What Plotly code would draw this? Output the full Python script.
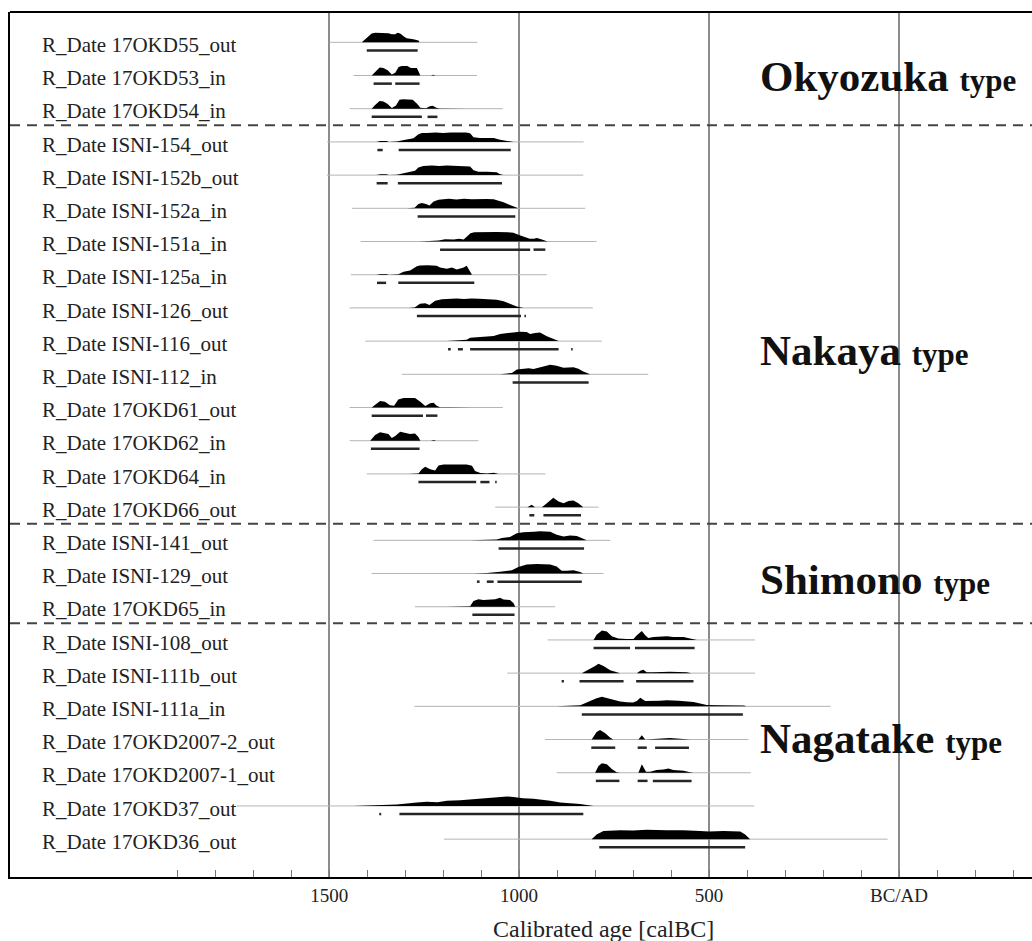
import plotly.graph_objects as go

# ---------------- data (years BC; AD negative) ----------------
labels = [
    "R_Date 17OKD55_out", "R_Date 17OKD53_in", "R_Date 17OKD54_in",
    "R_Date ISNI-154_out", "R_Date ISNI-152b_out", "R_Date ISNI-152a_in",
    "R_Date ISNI-151a_in", "R_Date ISNI-125a_in", "R_Date ISNI-126_out",
    "R_Date ISNI-116_out", "R_Date ISNI-112_in", "R_Date 17OKD61_out",
    "R_Date 17OKD62_in", "R_Date 17OKD64_in", "R_Date 17OKD66_out",
    "R_Date ISNI-141_out", "R_Date ISNI-129_out", "R_Date 17OKD65_in",
    "R_Date ISNI-108_out", "R_Date ISNI-111b_out", "R_Date ISNI-111a_in",
    "R_Date 17OKD2007-2_out", "R_Date 17OKD2007-1_out", "R_Date 17OKD37_out",
    "R_Date 17OKD36_out",
]

line_start = [1500, 1436, 1446, 1505, 1506, 1440, 1417, 1443, 1446, 1405, 1309, 1446, 1446,
              1401, 1063, 1383, 1388, 1274, 925, 1031, 1276, 932, 901, 1743, 1198]
line_end = [1110, 1111, 1043, 830, 831, 826, 796, 927, 806, 782, 660, 1043, 1107,
            931, 791, 760, 778, 905, 379, 379, 180, 396, 390, 381, 30]

dist_years = [
    [1414, 1401, 1388, 1379, 1361, 1344, 1335, 1326, 1320, 1313, 1304, 1296, 1278, 1265, 1262, 1232, 1225, 1218],
    [1388, 1379, 1367, 1357, 1346, 1335, 1326, 1317, 1309, 1294, 1285, 1269, 1260, 1232, 1226, 1220],
    [1388, 1379, 1367, 1357, 1346, 1335, 1324, 1315, 1305, 1290, 1280, 1268, 1260, 1245, 1235, 1227, 1218, 1210, 1150, 1136],
    [1376, 1365, 1350, 1342, 1322, 1313, 1296, 1278, 1265, 1256, 1243, 1220, 1200, 1180, 1160, 1140, 1129, 1120, 1103, 1085, 1067, 1050, 1032, 1015],
    [1376, 1365, 1350, 1342, 1322, 1313, 1296, 1274, 1265, 1252, 1230, 1210, 1190, 1170, 1150, 1135, 1129, 1120, 1107, 1085, 1059, 1050, 1041],
    [1296, 1275, 1265, 1256, 1245, 1236, 1225, 1212, 1199, 1185, 1165, 1145, 1125, 1105, 1085, 1067, 1050, 1041, 1024, 1010, 1002],
    [1262, 1240, 1212, 1195, 1185, 1172, 1158, 1146, 1138, 1128, 1118, 1090, 1060, 1030, 1015, 1002, 985, 972, 962, 953, 940, 925],
    [1376, 1365, 1350, 1342, 1318, 1304, 1287, 1269, 1261, 1240, 1217, 1208, 1190, 1177, 1164, 1146, 1138, 1129, 1124],
    [1291, 1275, 1261, 1247, 1236, 1221, 1203, 1185, 1165, 1145, 1125, 1105, 1085, 1065, 1059, 1041, 1024, 1006, 989],
    [1190, 1170, 1155, 1138, 1129, 1103, 1085, 1067, 1050, 1032, 1015, 997, 980, 971, 958, 945, 927, 910, 896],
    [1050, 1030, 1019, 1006, 989, 975, 962, 945, 918, 901, 883, 857, 844, 831, 817, 813],
    [1388, 1375, 1366, 1353, 1340, 1329, 1318, 1304, 1274, 1260, 1247, 1234, 1225, 1217, 1208, 1180, 1133, 1125],
    [1392, 1379, 1366, 1353, 1344, 1335, 1326, 1313, 1300, 1287, 1274, 1265, 1260, 1232, 1225, 1218],
    [1291, 1265, 1256, 1247, 1234, 1221, 1212, 1199, 1168, 1138, 1124, 1116, 1102, 1085, 1067, 1059, 1054],
    [978, 967, 958, 940, 927, 910, 896, 883, 870, 857, 844, 835, 831],
    [1129, 1080, 1059, 1045, 1024, 1006, 989, 962, 945, 918, 901, 883, 866, 848, 831, 822],
    [1120, 1085, 1050, 1019, 1002, 980, 953, 918, 901, 888, 874, 857, 839, 831],
    [1190, 1140, 1129, 1120, 1107, 1094, 1076, 1063, 1050, 1041, 1024, 1015, 1010],
    [804, 796, 782, 769, 756, 739, 717, 699, 690, 677, 668, 660, 646, 629, 611, 594, 567, 550, 541, 532],
    [835, 817, 800, 791, 778, 760, 743, 734, 690, 681, 673, 664, 646, 603, 559, 546],
    [901, 860, 839, 813, 796, 782, 760, 734, 717, 700, 690, 681, 668, 650, 630, 611, 580, 541, 524, 506, 471, 440, 418, 409, 401],
    [809, 796, 787, 774, 760, 752, 686, 677, 668, 646, 629, 603, 585, 559, 550],
    [800, 791, 782, 769, 756, 743, 734, 686, 677, 666, 655, 638, 620, 607, 594, 567, 550, 541],
    [1436, 1374, 1322, 1269, 1243, 1215, 1190, 1155, 1129, 1085, 1058, 1032, 1015, 990, 962, 945, 918, 892, 866, 839, 813, 804],
    [809, 796, 778, 760, 734, 700, 664, 611, 568, 524, 500, 462, 418, 405, 392],
]

dist_heights = [
    [0, 0.44, 0.93, 1.0, 1.0, 0.96, 0.85, 0.85, 1.0, 0.93, 0.63, 0.44, 0.33, 0.19, 0, 0, 0.05, 0],
    [0, 0.4, 0.85, 0.8, 0.55, 0.1, 0.3, 0.9, 1.0, 1.0, 0.8, 0.78, 0, 0, 0.08, 0],
    [0, 0.4, 0.8, 0.75, 0.5, 0.08, 0.35, 0.95, 1.0, 1.0, 0.95, 0.5, 0.1, 0.05, 0.25, 0.3, 0.1, 0.02, 0.02, 0],
    [0, 0.1, 0.1, 0, 0.03, 0.12, 0.25, 0.38, 0.8, 0.95, 0.93, 1.0, 0.95, 1.0, 0.97, 1.0, 0.9, 0.5, 0.42, 0.45, 0.4, 0.22, 0.1, 0],
    [0, 0.1, 0.1, 0, 0.03, 0.12, 0.3, 0.45, 0.8, 0.95, 1.0, 0.95, 1.0, 0.97, 1.0, 0.95, 0.9, 0.5, 0.35, 0.35, 0.3, 0.1, 0],
    [0, 0.05, 0.45, 0.55, 0.45, 0.3, 0.72, 0.9, 0.95, 1.0, 0.93, 1.0, 0.95, 1.0, 0.97, 0.95, 0.8, 0.65, 0.35, 0.15, 0],
    [0, 0.03, 0.12, 0.25, 0.22, 0.2, 0.3, 0.2, 0.5, 0.88, 0.97, 1.0, 1.0, 0.98, 0.92, 0.72, 0.45, 0.3, 0.28, 0.38, 0.22, 0],
    [0, 0.07, 0.07, 0, 0.05, 0.3, 0.45, 0.9, 0.97, 1.0, 0.95, 0.75, 0.62, 0.75, 0.55, 0.75, 0.95, 0.4, 0],
    [0, 0.05, 0.45, 0.5, 0.3, 0.75, 0.9, 0.97, 1.0, 0.95, 1.0, 0.97, 0.95, 0.92, 0.85, 0.7, 0.4, 0.15, 0],
    [0, 0.03, 0.08, 0.15, 0.35, 0.45, 0.5, 0.55, 0.75, 0.85, 0.97, 1.0, 0.95, 0.75, 0.85, 0.9, 0.5, 0.2, 0],
    [0, 0.05, 0.15, 0.5, 0.55, 0.65, 0.55, 0.75, 1.0, 0.9, 0.7, 0.75, 0.6, 0.3, 0.05, 0],
    [0, 0.45, 0.7, 0.6, 0.25, 0.2, 0.85, 1.0, 1.0, 0.6, 0.15, 0.45, 0.5, 0.2, 0.02, 0.02, 0.03, 0],
    [0, 0.6, 0.9, 0.75, 0.7, 0.3, 0.5, 0.95, 0.8, 0.7, 0.75, 0.4, 0, 0, 0.08, 0],
    [0, 0.05, 0.5, 0.75, 0.5, 0.35, 0.9, 1.0, 1.0, 1.0, 0.85, 0.3, 0.1, 0.05, 0.12, 0.05, 0],
    [0, 0.25, 0, 0, 0.4, 1.0, 0.6, 0.4, 0.65, 0.7, 0.4, 0.05, 0],
    [0, 0.03, 0.1, 0.25, 0.35, 0.75, 0.85, 0.9, 0.95, 0.9, 0.6, 0.4, 0.5, 0.45, 0.15, 0],
    [0, 0.05, 0.2, 0.35, 0.7, 0.95, 1.0, 0.95, 0.75, 0.3, 0.3, 0.35, 0.15, 0],
    [0, 0.03, 0.05, 0.6, 0.8, 0.7, 0.75, 0.8, 0.95, 0.75, 0.7, 0.4, 0],
    [0, 0.55, 1.0, 0.9, 0.4, 0.15, 0.1, 0.1, 0.5, 0.95, 0.5, 0.2, 0.3, 0.35, 0.4, 0.3, 0.3, 0.15, 0.05, 0],
    [0, 0.35, 0.75, 1.0, 0.75, 0.3, 0.05, 0, 0, 0.25, 0.35, 0.1, 0.1, 0.15, 0.1, 0],
    [0, 0.05, 0.12, 0.55, 0.85, 1.0, 0.75, 0.5, 0.42, 0.4, 0.55, 0.9, 0.55, 0.55, 0.6, 0.65, 0.6, 0.45, 0.3, 0.15, 0.12, 0.12, 0.12, 0.1, 0],
    [0, 0.8, 1.0, 0.7, 0.2, 0, 0, 0.45, 0, 0.05, 0.1, 0.15, 0.1, 0.05, 0],
    [0, 0.7, 1.0, 0.9, 0.4, 0.05, 0, 0, 0.9, 0.1, 0.1, 0.3, 0.35, 0.45, 0.3, 0.2, 0.05, 0],
    [0, 0.05, 0.15, 0.35, 0.45, 0.4, 0.55, 0.6, 0.7, 0.8, 0.95, 1.0, 0.95, 0.8, 0.75, 0.7, 0.55, 0.35, 0.3, 0.2, 0.05, 0],
    [0, 0.5, 0.85, 0.9, 0.95, 0.9, 1.0, 0.95, 0.95, 0.85, 0.8, 0.85, 0.8, 0.5, 0],
]

# 95.4% ranges (from, to)
ranges = [
    [(1401, 1267)],
    [(1383, 1335), (1326, 1262)],
    [(1388, 1256), (1241, 1215)],
    [(1373, 1359), (1317, 1022)],
    [(1375, 1346), (1319, 1045)],
    [(1267, 1010)],
    [(1208, 971), (962, 931)],
    [(1374, 1350), (1318, 1118)],
    [(1269, 995), (986, 982)],
    [(1187, 1180), (1161, 1148), (1129, 896), (863, 859)],
    [(1017, 817)],
    [(1388, 1253), (1245, 1215)],
    [(1390, 1262)],
    [(1265, 1113), (1102, 1078), (1063, 1059)],
    [(973, 960), (936, 837)],
    [(1054, 829)],
    [(1111, 1104), (1085, 1067), (1057, 835)],
    [(1123, 1012)],
    [(804, 708), (695, 538)],
    [(888, 882), (841, 725), (692, 541)],
    [(835, 411)],
    [(810, 747), (688, 664), (642, 553)],
    [(798, 736), (688, 662), (648, 546)],
    [(1368, 1363), (1315, 831)],
    [(789, 405)],
]

group_names = ["Okyozuka", "Nakaya", "Shimono", "Nagatake"]
group_rows = [2.02, 10.28, 17.17, 21.98]
separator_rows = [3.5, 15.5, 18.5]

tick_vals = [1500, 1000, 500, 0]
tick_text = ["1500", "1000", "500", "BC/AD"]
minor_vals = list(range(1900, -301, -100))

# ---------------- styling ----------------
FONT = "Liberation Serif"
H_SCALE = 0.286   # height of a peak in row units
BAR_OFF = 0.245   # range bar offset below baseline
LABEL_OFF = 0.08

fig = go.Figure()

rows = list(range(1, len(labels) + 1))

# thin baselines
bx, by = [], []
for r, s, e in zip(rows, line_start, line_end):
    bx += [s, e, None]
    by += [r, r, None]
fig.add_trace(go.Scatter(x=bx, y=by, mode="lines",
                         line=dict(color="#b4b4b4", width=1),
                         hoverinfo="skip", showlegend=False))

# distributions
for r, ys, hs in zip(rows, dist_years, dist_heights):
    fig.add_trace(go.Scatter(x=ys, y=[r - h * H_SCALE for h in hs],
                             mode="lines", fill="toself", fillcolor="#000000",
                             line=dict(color="rgba(0,0,0,0)", width=0),
                             hoverinfo="skip", showlegend=False))

# range bars
rx, ry = [], []
for r, rr in zip(rows, ranges):
    for a, b in rr:
        rx += [a, b, None]
        ry += [r + BAR_OFF, r + BAR_OFF, None]
fig.add_trace(go.Scatter(x=rx, y=ry, mode="lines",
                         line=dict(color="#262626", width=2.5),
                         hoverinfo="skip", showlegend=False))

annotations = []
for r, lab in zip(rows, labels):
    annotations.append(dict(x=2262, y=r + LABEL_OFF, xref="x", yref="y", text=lab,
                            showarrow=False, xanchor="left", yanchor="middle",
                            font=dict(family=FONT, size=21, color="#222222")))
for name, gy in zip(group_names, group_rows):
    annotations.append(dict(
        x=371, y=gy, xref="x", yref="y",
        text="<b>%s </b><span style='font-size:31px'><b>type</b></span>" % name,
        showarrow=False, xanchor="left", yanchor="middle",
        font=dict(family=FONT, size=43, color="#111111")))
annotations.append(dict(x=0.581, y=-0.0601, xref="paper", yref="paper",
                        text="Calibrated age [calBC]", showarrow=False,
                        xanchor="center", yanchor="middle",
                        font=dict(family=FONT, size=24, color="#222222")))

shapes = []
for sy in separator_rows:
    shapes.append(dict(type="line", xref="paper", yref="y", x0=0, x1=1, y0=sy, y1=sy,
                       line=dict(color="#444444", width=2, dash="10px,7px"), layer="above"))
shapes.append(dict(type="line", xref="paper", yref="paper", x0=0, x1=1, y0=1, y1=1,
                   line=dict(color="#000000", width=2)))

fig.update_layout(
    width=1032, height=941,
    margin=dict(l=10, r=0, t=12, b=64),
    plot_bgcolor="white", paper_bgcolor="white",
    annotations=annotations, shapes=shapes,
    xaxis=dict(range=[2340, -350], tickmode="array", tickvals=tick_vals, ticktext=tick_text,
               ticks="", showgrid=True, gridcolor="#8c8c8c", gridwidth=1.5,
               zeroline=False, showline=True, linecolor="#000000", linewidth=2,
               tickfont=dict(family=FONT, size=19, color="#222222"),
               minor=dict(tickmode="array", tickvals=minor_vals, ticks="inside",
                          ticklen=7, tickcolor="#777777", tickwidth=1, showgrid=False)),
    yaxis=dict(range=[26.14, 0.0873], showticklabels=False, ticks="", showgrid=False,
               zeroline=False, showline=True, linecolor="#000000", linewidth=2),
)

fig.write_html("out.html")
